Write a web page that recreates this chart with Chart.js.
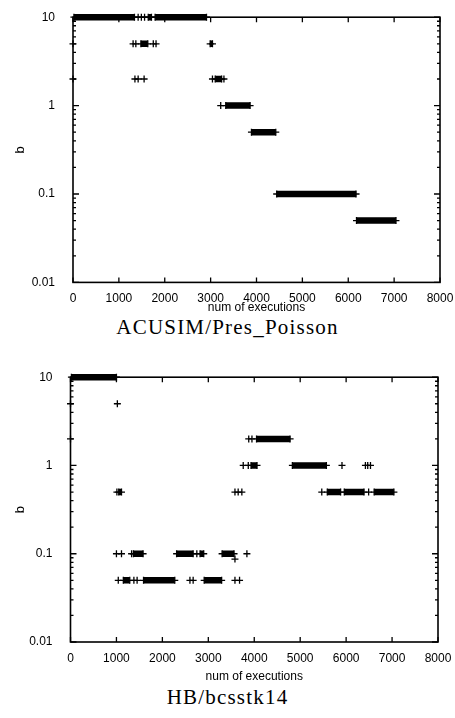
<!DOCTYPE html>
<html><head><meta charset="utf-8">
<script src="https://cdn.jsdelivr.net/npm/chart.js@4.4.1/dist/chart.umd.min.js"></script>
<style>
html,body{margin:0;padding:0;background:#fff;width:455px;height:718px;overflow:hidden;position:relative;}
canvas{position:absolute;left:0;display:block;}
.cap{position:absolute;left:0;width:455px;text-align:center;font-family:"Liberation Serif",serif;color:#000;font-size:21px;letter-spacing:1.2px;line-height:24px;}
</style></head><body>
<canvas id="c1" width="455" height="314" style="top:0px;width:455px;height:314px"></canvas>
<div class="cap" style="top:315px">ACUSIM/Pres_Poisson</div>
<canvas id="c2" width="455" height="323" style="top:360px;width:455px;height:323px"></canvas>
<div class="cap" style="top:685px">HB/bcsstk14</div>
<script>
// ---- data ----
const xTicks = [0, 1000, 2000, 3000, 4000, 5000, 6000, 7000, 8000];
const yTicks = [0.01, 0.1, 1, 10];
const yTickLabels = ['0.01', '0.1', '1', '10'];
const xTitle = 'num of executions';
const yTitle = 'b';

// dense runs of executions: [first x, last x, b]
const acusimRuns = [
  [20, 1340, 10], [1640, 1710, 10], [1790, 2910, 10],
  [1480, 1630, 5], [2990, 3040, 5],
  [3100, 3240, 2],
  [3330, 3860, 1],
  [3890, 4420, 0.5],
  [4440, 6170, 0.1],
  [6180, 7040, 0.05]
];
// isolated executions: [x, b]
const acusimPoints = [
  [1420, 10], [1490, 10], [1560, 10],
  [0, 5], [1310, 5], [1370, 5], [1750, 5], [1810, 5],
  [0, 2], [1350, 2], [1420, 2], [1550, 2], [3040, 2], [3290, 2],
  [3220, 1]
];

const bcsstkRuns = [
  [20, 1000, 10],
  [4050, 4780, 2],
  [3930, 4060, 1], [4830, 5570, 1],
  [1050, 1110, 0.5], [5590, 5880, 0.5], [5960, 6390, 0.5], [6610, 7040, 0.5],
  [1370, 1580, 0.1], [2310, 2670, 0.1], [2820, 2900, 0.1], [3300, 3560, 0.1],
  [1150, 1290, 0.05], [1590, 2270, 0.05], [2910, 3290, 0.05]
];
const bcsstkPoints = [
  [0, 5], [1020, 5], [0, 2],
  [3880, 2], [3950, 2],
  [3760, 1], [3870, 1], [5910, 1], [6420, 1], [6470, 1], [6530, 1],
  [1010, 0.5], [3580, 0.5], [3650, 0.5], [3730, 0.5], [5470, 0.5], [6490, 0.5],
  [1000, 0.1], [1110, 0.1], [1330, 0.1], [2750, 0.1], [3840, 0.1], [3580, 0.087],
  [1040, 0.05], [1380, 0.05], [1450, 0.05], [2600, 0.05], [2670, 0.05], [3580, 0.05], [3680, 0.05]
];

// ---- drawing ----
const frameTicks = {
  id: 'frameTicks',
  afterDatasetsDraw(chart) {
    const {ctx, chartArea: a, scales: {x, y}} = chart;
    ctx.save();
    ctx.strokeStyle = '#000';
    ctx.lineWidth = 1.6;
    ctx.strokeRect(a.left, a.top, a.right - a.left, a.bottom - a.top);
    ctx.lineWidth = 1.3;
    ctx.beginPath();
    xTicks.forEach(v => {
      const px = x.getPixelForValue(v);
      ctx.moveTo(px, a.bottom); ctx.lineTo(px, a.bottom - 5);
      ctx.moveTo(px, a.top); ctx.lineTo(px, a.top + 5);
    });
    [0.01, 0.1, 1].forEach(d => {
      for (let m = 1; m <= 9; m++) {
        const py = y.getPixelForValue(d * m);
        const len = m === 1 ? 6 : 3;
        ctx.moveTo(a.left, py); ctx.lineTo(a.left + len, py);
        ctx.moveTo(a.right, py); ctx.lineTo(a.right - len, py);
      }
    });
    const pt = y.getPixelForValue(10);
    ctx.moveTo(a.left, pt); ctx.lineTo(a.left + 6, pt);
    ctx.moveTo(a.right, pt); ctx.lineTo(a.right - 6, pt);
    ctx.stroke();
    ctx.restore();
  }
};

function runData(runs) {
  const d = [];
  runs.forEach(([s, e, b]) => { d.push({x: s, y: b}, {x: e, y: b}, {x: e, y: null}); });
  return d;
}

const sans = 'Liberation Sans';
function makeChart(id, runs, points, g) {
  return new Chart(document.getElementById(id), {
    type: 'scatter',
    data: {datasets: [
      {type: 'line', data: runData(runs), borderColor: '#000', borderWidth: 6.5, borderCapStyle: 'butt',
       spanGaps: false, tension: 0, pointStyle: 'cross', pointRadius: 3.5, pointBorderWidth: 1.3,
       pointBorderColor: '#000', pointBackgroundColor: '#000', clip: false},
      {data: points.map(([x, y]) => ({x, y})), pointStyle: 'cross', pointRadius: 3.5, pointBorderWidth: 1.3,
       borderColor: '#000', backgroundColor: '#000', clip: false}
    ]},
    options: {
      responsive: false, animation: false, events: [],
      layout: {padding: {top: g.top, right: g.right, left: g.left, bottom: 0}},
      plugins: {legend: {display: false}, tooltip: {enabled: false}},
      scales: {
        x: {type: 'linear', min: 0, max: 8000,
            afterBuildTicks: s => { s.ticks = xTicks.map(v => ({value: v})); },
            afterFit: s => { s.height = g.xh; },
            grid: {display: false}, border: {display: false},
            ticks: {padding: g.xpad, color: '#000', font: {family: sans, size: 12}, maxRotation: 0, autoSkip: false,
                    callback: v => String(v)},
            title: {display: true, text: xTitle, color: '#000', font: {family: sans, size: 12, lineHeight: 1.1}, padding: 0}},
        y: {type: 'logarithmic', min: 0.01, max: 10,
            afterBuildTicks: s => { s.ticks = yTicks.map(v => ({value: v})); },
            afterFit: s => { s.width = g.yw; },
            grid: {display: false}, border: {display: false},
            ticks: {padding: 10, color: '#000', font: {family: sans, size: 12}, autoSkip: false,
                    callback: (v, i) => yTickLabels[i]},
            title: {display: true, text: yTitle, color: '#000', font: {family: sans, size: 13, lineHeight: 1.2}, padding: 0}}
      }
    },
    plugins: [frameTicks]
  });
}

makeChart('c1', acusimRuns, acusimPoints, {top: 13.5, right: 15, left: 12.2, yw: 60.8, xh: 31.6, xpad: 1});
makeChart('c2', bcsstkRuns, bcsstkPoints, {top: 13.3, right: 17, left: 12.2, yw: 58.3, xh: 41, xpad: 1});
</script>
</body></html>
